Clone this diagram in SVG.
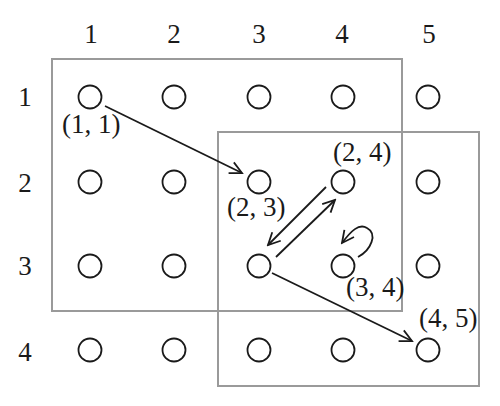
<svg xmlns="http://www.w3.org/2000/svg" width="500" height="406" viewBox="0 0 500 406">
<style>
text{font-family:"Liberation Serif","Times New Roman",serif;font-size:27px;fill:#1a1a1a}
.hdr{text-anchor:middle}
.box{fill:none;stroke:#9a9a9a;stroke-width:2}
.node{fill:#fff;stroke:#1a1a1a;stroke-width:1.8}
.edge{fill:none;stroke:#1a1a1a;stroke-width:1.8}
</style>
<defs>
<marker id="ah" markerUnits="userSpaceOnUse" markerWidth="16" markerHeight="16" viewBox="0 0 16 16" refX="14" refY="8" orient="auto">
<path d="M2,2 L14,8 L2,14" fill="none" stroke="#1a1a1a" stroke-width="1.8"/>
</marker>
</defs>
<rect fill="#fff" x="0" y="0" width="500" height="406"/>
<g id="headers">
<text class="hdr" x="91" y="43">1</text>
<text class="hdr" x="174" y="43">2</text>
<text class="hdr" x="259" y="43">3</text>
<text class="hdr" x="342" y="43">4</text>
<text class="hdr" x="429" y="43">5</text>
<text class="hdr" x="25" y="106">1</text>
<text class="hdr" x="25" y="192">2</text>
<text class="hdr" x="25" y="275">3</text>
<text class="hdr" x="25" y="361">4</text>
</g>
<g id="windows">
<rect class="box" x="52" y="59" width="350" height="252"/>
<rect class="box" x="218" y="132" width="261" height="254"/>
</g>
<g id="nodes">
<g id="n11"><circle class="node" cx="90" cy="97" r="11.5"/></g>
<g id="n12"><circle class="node" cx="174" cy="97" r="11.5"/></g>
<g id="n13"><circle class="node" cx="259" cy="97" r="11.5"/></g>
<g id="n14"><circle class="node" cx="343" cy="97" r="11.5"/></g>
<g id="n15"><circle class="node" cx="428" cy="97" r="11.5"/></g>
<g id="n21"><circle class="node" cx="90" cy="182" r="11.5"/></g>
<g id="n22"><circle class="node" cx="174" cy="182" r="11.5"/></g>
<g id="n23"><circle class="node" cx="259" cy="182" r="11.5"/></g>
<g id="n24"><circle class="node" cx="343" cy="182" r="11.5"/></g>
<g id="n25"><circle class="node" cx="428" cy="182" r="11.5"/></g>
<g id="n31"><circle class="node" cx="90" cy="266" r="11.5"/></g>
<g id="n32"><circle class="node" cx="174" cy="266" r="11.5"/></g>
<g id="n33"><circle class="node" cx="259" cy="266" r="11.5"/></g>
<g id="n34"><circle class="node" cx="343" cy="266" r="11.5"/></g>
<g id="n35"><circle class="node" cx="428" cy="266" r="11.5"/></g>
<g id="n41"><circle class="node" cx="90" cy="350" r="11.5"/></g>
<g id="n42"><circle class="node" cx="174" cy="350" r="11.5"/></g>
<g id="n43"><circle class="node" cx="259" cy="350" r="11.5"/></g>
<g id="n44"><circle class="node" cx="343" cy="350" r="11.5"/></g>
<g id="n45"><circle class="node" cx="428" cy="350" r="11.5"/></g>
</g>
<g id="labels">
<text x="62" y="133">(1, 1)</text>
<text x="333" y="161">(2, 4)</text>
<text x="227" y="216">(2, 3)</text>
<text x="346" y="296">(3, 4)</text>
<text x="419" y="327">(4, 5)</text>
</g>
<g id="connectors">
<line class="edge" x1="105" y1="106" x2="242" y2="173" marker-end="url(#ah)"/>
<line class="edge" x1="276" y1="257" x2="335" y2="200" marker-end="url(#ah)"/>
<line class="edge" x1="326" y1="187" x2="268" y2="245" marker-end="url(#ah)"/>
<line class="edge" x1="272" y1="273" x2="412" y2="341" marker-end="url(#ah)"/>
<path class="edge" d="M358,257 C371,250 378,234 367,228 C359,223 351,231 342,243" marker-end="url(#ah)"/>
</g>
</svg>
